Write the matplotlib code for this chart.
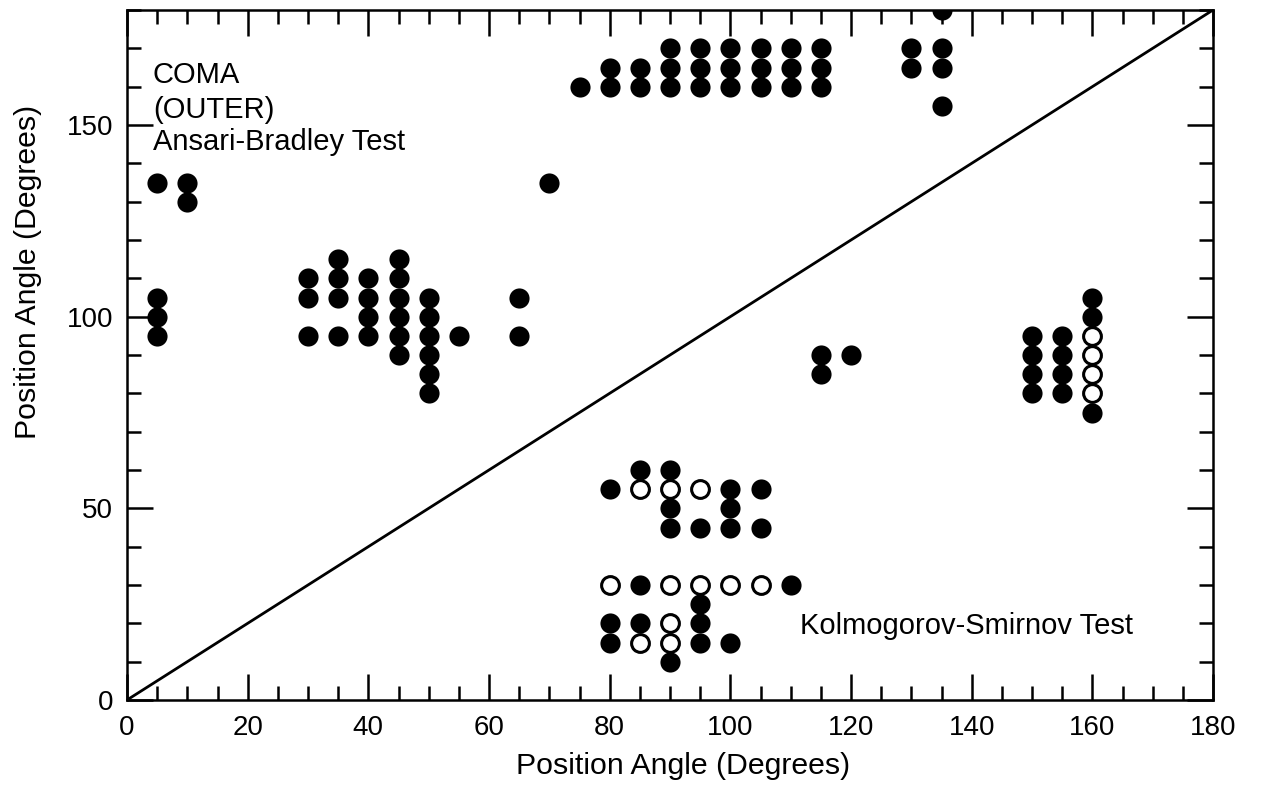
import matplotlib
matplotlib.use("Agg")
import matplotlib.pyplot as plt
from matplotlib.ticker import MultipleLocator

plt.rcParams["font.family"] = ["Liberation Sans", "DejaVu Sans"]

# Filled circles: (x position angle, y position angle), degrees
filled_x = ([5] * 4 + [10] * 2 + [30] * 3 + [35] * 4 + [40] * 4 + [45] * 6 + [50] * 6
            + [55, 65, 65, 70, 75] + [80] * 2 + [85] * 2
            + [90] * 3 + [95] * 3 + [100] * 3 + [105] * 3 + [110] * 3 + [115] * 3
            + [130] * 2 + [135] * 4 + [115, 115, 120]
            + [150] * 4 + [155] * 4 + [160] * 3
            + [80] * 3 + [85] * 3 + [90] * 4 + [95] * 4 + [100] * 4 + [105] * 2 + [110])
filled_y = ([135, 105, 100, 95] + [135, 130] + [110, 105, 95] + [115, 110, 105, 95]
            + [110, 105, 100, 95] + [115, 110, 105, 100, 95, 90]
            + [105, 100, 95, 90, 85, 80]
            + [95, 105, 95, 135, 160] + [165, 160] + [165, 160]
            + [170, 165, 160] * 6
            + [170, 165] + [180, 170, 165, 155] + [90, 85, 90]
            + [95, 90, 85, 80] + [95, 90, 85, 80] + [105, 100, 75]
            + [55, 20, 15] + [60, 30, 20] + [60, 50, 45, 10] + [45, 25, 20, 15]
            + [55, 50, 45, 15] + [55, 45] + [30])

# Open circles
open_x = [160, 160, 160, 160, 80, 85, 85, 90, 90, 90, 90, 95, 95, 100, 105]
open_y = [95, 90, 85, 80, 30, 55, 15, 55, 30, 20, 15, 55, 30, 30, 30]

x_ticks = [0, 20, 40, 60, 80, 100, 120, 140, 160, 180]
y_ticks = [0, 50, 100, 150]

fig = plt.figure(figsize=(12.64, 7.90), dpi=100)
ax = fig.add_axes([127 / 1264, 1 - 700 / 790, 1086 / 1264, 690 / 790])

ax.plot([0, 180], [0, 180], color="black", lw=2.0, zorder=1)
ax.scatter(filled_x, filled_y, s=14.5 ** 2, c="black", edgecolors="black",
           linewidths=0, zorder=2)
ax.scatter(open_x, open_y, s=12.8 ** 2, c="white", edgecolors="black",
           linewidths=2.2, zorder=3)

ax.set_xlim(0, 180)
ax.set_ylim(0, 180)
ax.set_xticks(x_ticks)
ax.set_yticks(y_ticks)
ax.xaxis.set_minor_locator(MultipleLocator(5))
ax.yaxis.set_minor_locator(MultipleLocator(10))
ax.tick_params(which="both", direction="in", top=True, right=True,
               width=1.8, color="black", labelsize=20)
ax.tick_params(which="major", length=19)
ax.tick_params(which="minor", length=10)
ax.tick_params(axis="x", which="major", pad=11)
ax.tick_params(axis="y", which="major", pad=10)
for sp in ax.spines.values():
    sp.set_linewidth(1.8)

ax.set_xlabel("Position Angle (Degrees)", fontsize=21.8)
ax.set_ylabel("Position Angle (Degrees)", fontsize=21.8)
ax.xaxis.set_label_coords(0.512, -0.075)
ax.yaxis.set_label_coords(-0.078, 0.62)

ax.text(4.3, 161, "COMA", fontsize=21, va="baseline", ha="left")
ax.text(4.3, 151.8, "(OUTER)", fontsize=21, va="baseline", ha="left")
ax.text(4.3, 143.5, "Ansari-Bradley Test", fontsize=21, va="baseline", ha="left")
ax.text(111.6, 17.3, "Kolmogorov-Smirnov Test", fontsize=21, va="baseline", ha="left")

fig.savefig("out.png", dpi=100)
